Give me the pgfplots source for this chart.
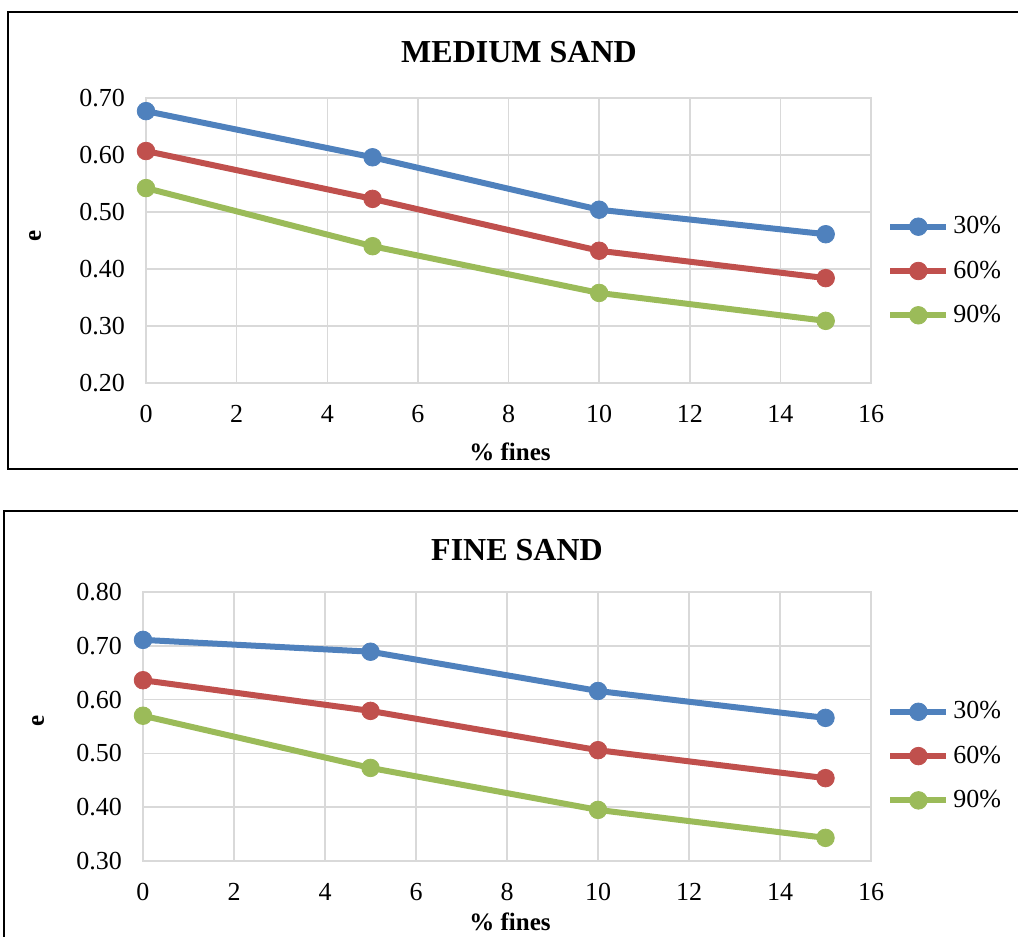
\documentclass[border=0pt]{standalone}
\usepackage{pgfplots}
\pgfplotsset{compat=1.18}
\usepackage{fontspec}
\setmainfont{Liberation Serif}
\definecolor{cblue}{HTML}{4F81BD}
\definecolor{cred}{HTML}{C0504D}
\definecolor{cgreen}{HTML}{9BBB59}
\definecolor{cgrid}{HTML}{D9D9D9}
\pgfplotsset{
  esty/.style={
    scale only axis,
    xmin=0, xmax=16, xtick={0,2,...,16},
    axis line style={cgrid, line width=0.75pt},
    grid=major, major grid style={cgrid, line width=0.75pt},
    major tick length=0pt,
    tick style={draw=none},
    /pgf/number format/assume math mode=true,
    tick label style={font=\fontsize{13}{15}\selectfont},
    yticklabel style={xshift=-7pt, /pgf/number format/fixed, /pgf/number format/fixed zerofill, /pgf/number format/precision=2},
    xticklabel style={yshift=-7.5pt},
    every axis plot/.append style={line width=3pt, mark=*, mark size=4.4pt, mark options={solid, line width=0.4pt}},
    legend style={draw=none, fill=none, font=\fontsize{13}{15}\selectfont, row sep=8pt, inner sep=0pt, cells={anchor=west}},
    legend image code/.code={\draw[mark repeat=2,mark phase=2] plot coordinates {(1.5pt,0pt)(15.5pt,0pt)(29.5pt,0pt)};},
  }
}
\begin{document}
\begin{tikzpicture}
\useasboundingbox (0,0) rectangle (509pt,468.5pt);
% frames
\draw[line width=1pt] (515pt,462.5pt) -- (4pt,462.5pt) -- (4pt,234pt) -- (515pt,234pt);
\draw[line width=1pt] (515pt,213pt) -- (2pt,213pt) -- (2pt,-5pt);
% top chart
\begin{axis}[esty, at={(73pt,277pt)}, anchor=south west,
  width=362.5pt, height=142.5pt,
  ymin=0.2, ymax=0.7, ytick={0.2,0.3,...,0.71},
  legend style={at={(1.022,0.393)}, anchor=west}]
\addplot[cblue] coordinates {(0,0.677) (5,0.596) (10,0.504) (15,0.461)};
\addplot[cred] coordinates {(0,0.607) (5,0.523) (10,0.432) (15,0.384)};
\addplot[cgreen] coordinates {(0,0.542) (5,0.440) (10,0.358) (15,0.309)};
\legend{30\%,60\%,90\%}
\end{axis}
% bottom chart
\begin{axis}[esty, at={(71.5pt,38pt)}, anchor=south west,
  width=364pt, height=134.5pt,
  ymin=0.3, ymax=0.8, ytick={0.3,0.4,...,0.81},
  legend style={at={(1.022,0.39)}, anchor=west}]
\addplot[cblue] coordinates {(0,0.711) (5,0.689) (10,0.616) (15,0.566)};
\addplot[cred] coordinates {(0,0.636) (5,0.579) (10,0.506) (15,0.454)};
\addplot[cgreen] coordinates {(0,0.570) (5,0.473) (10,0.395) (15,0.343)};
\legend{30\%,60\%,90\%}
\end{axis}
% titles and labels
\node[font=\fontsize{16}{19}\selectfont\bfseries] at (259.5pt,442.5pt) {MEDIUM SAND};
\node[font=\fontsize{16}{19}\selectfont\bfseries] at (258.5pt,193.5pt) {FINE SAND};
\node[font=\fontsize{12.5}{15}\selectfont\bfseries] at (255pt,242.5pt) {\% fines};
\node[font=\fontsize{12.5}{15}\selectfont\bfseries] at (255pt,7.5pt) {\% fines};
\node[font=\fontsize{12.5}{15}\selectfont\bfseries, rotate=90] at (17.5pt,350.5pt) {e};
\node[font=\fontsize{12.5}{15}\selectfont\bfseries, rotate=90] at (19pt,108pt) {e};
\end{tikzpicture}
\end{document}
